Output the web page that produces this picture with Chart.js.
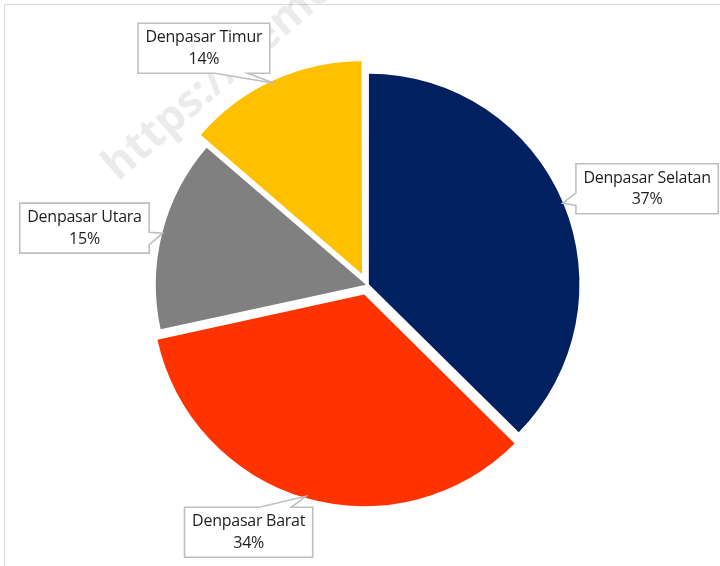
<!DOCTYPE html>
<html><head><meta charset="utf-8">
<script src="https://cdn.jsdelivr.net/npm/chart.js@4.4.0/dist/chart.umd.min.js"></script>
<style>
html,body{margin:0;padding:0;background:#fff;}
#wrap{position:relative;width:720px;height:566px;overflow:hidden;background:#fff;}
#frame{position:absolute;left:4px;top:4px;width:900px;height:900px;border-left:1px solid #d9d9d9;border-top:1px solid #d9d9d9;}
canvas{position:absolute;left:0;top:0;}
</style></head><body>
<div id="wrap"><div id="frame"></div><canvas id="c" width="720" height="566"></canvas></div>
<script>
// ---- data ----
const categories = ['Denpasar Selatan', 'Denpasar Barat', 'Denpasar Utara', 'Denpasar Timur'];
const shares = [37.4, 34.2, 14.7, 13.7];

// ---- styling / layout ----
const colors = ['#002060', '#FF3300', '#808080', '#FFC000'];
const explodePx = [2, 10, 1, 12];
const boxShift = [[84.5, -14.5], [-57, 36], [-78, -5], [-70.5, -35]];
const labelFont = '16px "Open Sans"';
const watermark = 'https://demo';

function calloutPath(ctx, l, t, w, h, tx, ty) {
  const r = l + w, b = t + h, hc = l + w / 2, vc = t + h / 2;
  const dxPos = tx - hc, dyPos = ty - vc;
  const xg1 = dxPos > 0 ? 7 : 2, xg2 = dxPos > 0 ? 10 : 5;
  const yg1 = dyPos > 0 ? 7 : 2, yg2 = dyPos > 0 ? 10 : 5;
  const x1 = l + w * xg1 / 12, x2 = l + w * xg2 / 12, y1 = t + h * yg1 / 12, y2 = t + h * yg2 / 12;
  const horiz = Math.abs(dxPos * h) > Math.abs(dyPos * w);
  ctx.beginPath();
  ctx.moveTo(l, t);
  if (!horiz && dyPos < 0) { ctx.lineTo(x1, t); ctx.lineTo(tx, ty); ctx.lineTo(x2, t); }
  ctx.lineTo(r, t);
  if (horiz && dxPos > 0) { ctx.lineTo(r, y1); ctx.lineTo(tx, ty); ctx.lineTo(r, y2); }
  ctx.lineTo(r, b);
  if (!horiz && dyPos > 0) { ctx.lineTo(x2, b); ctx.lineTo(tx, ty); ctx.lineTo(x1, b); }
  ctx.lineTo(l, b);
  if (horiz && dxPos < 0) { ctx.lineTo(l, y2); ctx.lineTo(tx, ty); ctx.lineTo(l, y1); }
  ctx.closePath();
}

const watermarkPlugin = {
  id: 'wm',
  beforeDatasetsDraw(chart) {
    const ctx = chart.ctx;
    ctx.save();
    ctx.translate(118, 182);
    ctx.rotate(-41 * Math.PI / 180);
    ctx.font = 'bold 44px "Open Sans"';
    ctx.fillStyle = 'rgba(0,0,0,0.08)';
    ctx.textBaseline = 'alphabetic';
    ctx.fillText(watermark, 0, 0);
    ctx.restore();
  }
};

const calloutPlugin = {
  id: 'callouts',
  afterDatasetsDraw(chart) {
    const ctx = chart.ctx;
    const meta = chart.getDatasetMeta(0);
    const total = shares.reduce((a, b) => a + b, 0);
    meta.data.forEach((arc, i) => {
      const p = arc.getProps(['x', 'y', 'startAngle', 'endAngle', 'outerRadius'], true);
      const mid = (p.startAngle + p.endAngle) / 2;
      const shift = (arc.options.offset || 0) / 4;
      const ax = p.x + Math.cos(mid) * shift, ay = p.y + Math.sin(mid) * shift;
      const tx = ax + Math.cos(mid) * p.outerRadius, ty = ay + Math.sin(mid) * p.outerRadius;
      const line1 = categories[i];
      const line2 = Math.round(shares[i] / total * 100) + '%';
      ctx.save();
      ctx.font = labelFont;
      if ('letterSpacing' in ctx) ctx.letterSpacing = '-0.25px';
      const tw = Math.max(ctx.measureText(line1).width, ctx.measureText(line2).width);
      const w = tw + 15, h = 50;
      const bcx = tx + boxShift[i][0], bcy = ty + boxShift[i][1];
      const l = bcx - w / 2, t = bcy - h / 2;
      calloutPath(ctx, l, t, w, h, tx, ty);
      ctx.fillStyle = '#ffffff';
      ctx.fill();
      ctx.lineWidth = 1.6;
      ctx.strokeStyle = '#bfbfbf';
      ctx.stroke();
      ctx.fillStyle = '#1e1e1e';
      ctx.textAlign = 'center';
      ctx.textBaseline = 'middle';
      ctx.fillText(line1, bcx, bcy - 10.5);
      ctx.fillText(line2, bcx, bcy + 11);
      ctx.restore();
    });
  }
};

new Chart(document.getElementById('c'), {
  type: 'pie',
  data: {
    labels: categories,
    datasets: [{
      data: shares,
      backgroundColor: colors,
      borderWidth: 0,
      offset: explodePx.map(v => v * 4),
      radius: 210
    }]
  },
  options: {
    responsive: false,
    animation: false,
    radius: 210,
    layout: { padding: { left: 14, right: 0, top: 4, bottom: 0 } },
    plugins: { legend: { display: false }, tooltip: { enabled: false } },
    events: []
  },
  plugins: [watermarkPlugin, calloutPlugin]
});
</script>
</body></html>
